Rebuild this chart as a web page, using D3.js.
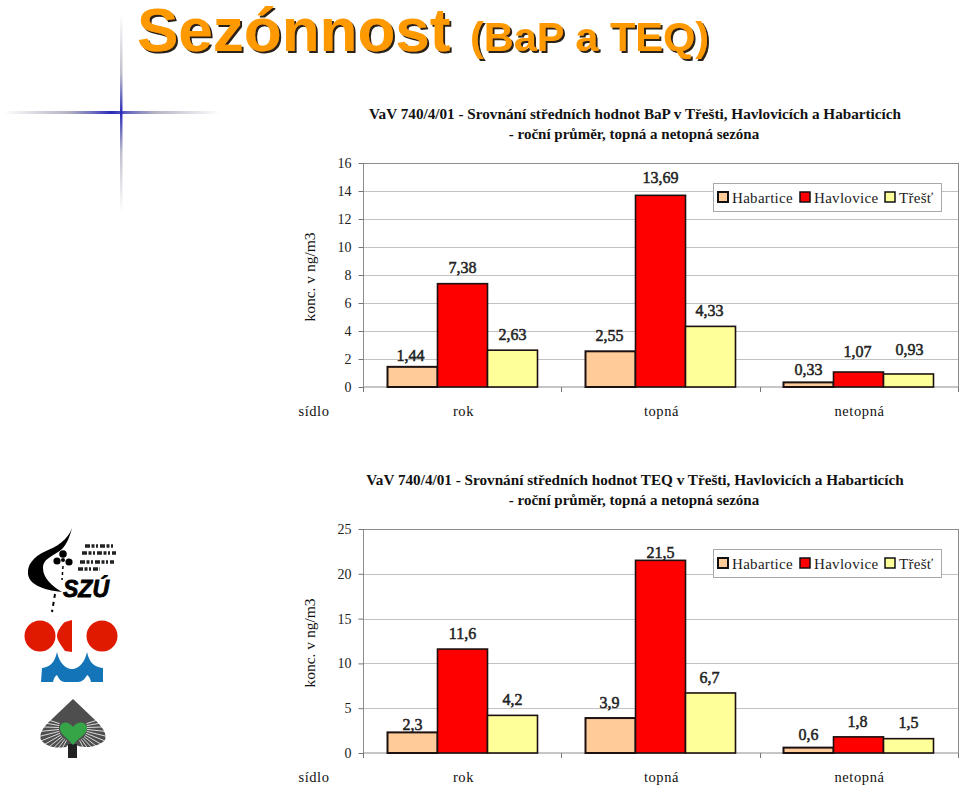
<!DOCTYPE html>
<html><head><meta charset="utf-8">
<script src="https://cdnjs.cloudflare.com/ajax/libs/d3/7.8.5/d3.min.js"></script>
<style>html,body{margin:0;background:#fff}svg{display:block}text{font-family:"Liberation Serif",serif;fill:#111}</style>
</head><body><svg id="c" width="960" height="787"></svg>
<script>
const categories = ["rok","topná","netopná"];
const seriesNames = ["Habartice","Havlovice","Třešť"];
const seriesColors = ["#ffcc99","#ff0000","#ffff99"];
const bapHabartice = [1.44,2.55,0.33];
const bapHavlovice = [7.38,13.69,1.07];
const bapTrest = [2.63,4.33,0.93];
const bapLabels = [["1,44","2,55","0,33"],["7,38","13,69","1,07"],["2,63","4,33","0,93"]];
const bapTicks = [0,2,4,6,8,10,12,14,16];
const teqHabartice = [2.3,3.9,0.6];
const teqHavlovice = [11.6,21.5,1.8];
const teqTrest = [4.2,6.7,1.6];
const teqLabels = [["2,3","3,9","0,6"],["11,6","21,5","1,8"],["4,2","6,7","1,5"]];
const teqTicks = [0,5,10,15,20,25];
const titleLine1 = ["VaV 740/4/01 - Srovnání středních hodnot BaP v Třešti, Havlovicích a Habarticích","VaV 740/4/01 - Srovnání středních hodnot TEQ v Třešti, Havlovicích a Habarticích"];
const titleLine2 = "- roční průměr, topná a netopná sezóna";

const svg = d3.select("#c");
const defs = svg.append("defs");
const g1 = defs.append("linearGradient").attr("id","crossH");
[[0,"#fff"],[.3,"#b4b4c4"],[.42,"#6a6ac0"],[.5,"#2a2ab8"],[.58,"#6a6ac0"],[.7,"#b4b4c4"],[1,"#fff"]].forEach(s=>g1.append("stop").attr("offset",s[0]).attr("stop-color",s[1]));
const g2 = defs.append("linearGradient").attr("id","crossV").attr("x1",0).attr("x2",0).attr("y1",0).attr("y2",1);
[[0,"#fff"],[.3,"#c0c0cc"],[.42,"#6a6ac0"],[.5,"#2a2ab8"],[.58,"#6a6ac0"],[.7,"#c0c0cc"],[1,"#fff"]].forEach(s=>g2.append("stop").attr("offset",s[0]).attr("stop-color",s[1]));
svg.append("rect").attr("x",3).attr("y",111).attr("width",217).attr("height",3).attr("fill","url(#crossH)");
svg.append("rect").attr("x",120).attr("y",14).attr("width",2.5).attr("height",198).attr("fill","url(#crossV)");

// main title
const shadow = defs.append("filter").attr("id","ts").attr("x","-5%").attr("y","-10%").attr("width","110%").attr("height","125%");
shadow.append("feDropShadow").attr("dx",2).attr("dy",2).attr("stdDeviation",0.3).attr("flood-color","#2b2113");
const tt = svg.append("g").attr("filter","url(#ts)");
tt.append("text").attr("x",137).attr("y",51).attr("font-size",62).style("font-family","'Liberation Sans',Arial,sans-serif").style("font-weight","bold").style("fill","#ff9900").text("Sezónnost");
tt.append("text").attr("x",470).attr("y",51).attr("font-size",41.5).style("font-family","'Liberation Sans',Arial,sans-serif").style("font-weight","bold").style("fill","#ff9900").text("(BaP a TEQ)");

function chart(o){
  const g = svg.append("g");
  const x = d3.scaleBand().domain(categories).range([363.5,957.5]).paddingInner(48/198).paddingOuter(24/198);
  const x1 = d3.scaleBand().domain(d3.range(3)).range([0,x.bandwidth()]);
  const y = d3.scaleLinear().domain([0,o.max]).range([o.y0,o.y0-224]);

  const tx = g.append("g").attr("text-anchor","middle");
  tx.append("text").attr("x",635).attr("y",o.y0-268).attr("font-size",15.2).style("font-weight","bold").text(o.t1);
  tx.append("text").attr("x",634).attr("y",o.y0-248).attr("font-size",15).style("font-weight","bold").text(titleLine2);

  // gridlines
  g.append("g").selectAll("line").data(o.ticks.slice(1)).join("line")
    .attr("x1",363).attr("x2",958).attr("y1",d=>Math.round(y(d))+.5).attr("y2",d=>Math.round(y(d))+.5)
    .attr("stroke","#c2c2c2").attr("stroke-width",1);
  g.append("rect").attr("x",363.5).attr("y",o.y0-223.5).attr("width",595).attr("height",223.5).attr("fill","none").attr("stroke","#8c8c8c");

  const ay = d3.axisLeft(y).tickValues(o.ticks).tickSize(5).tickPadding(7).tickFormat(d3.format("d"));
  const ga = g.append("g").attr("transform","translate(363.5,0)").call(ay);
  ga.select(".domain").remove();
  ga.selectAll("line").attr("stroke","#777");
  ga.selectAll("text").attr("font-size",14).style("font-family","'Liberation Serif',serif").style("fill","#222");

  const xa = d3.scaleLinear().domain([0,3]).range([363,958]);
  g.append("g").selectAll("line").data([0,1,2,3]).join("line")
    .attr("x1",d=>Math.round(xa(d))+.5).attr("x2",d=>Math.round(xa(d))+.5).attr("y1",o.y0).attr("y2",o.y0+5).attr("stroke","#777");

  // bars
  o.series.forEach((vals,s)=>{
    g.append("g").selectAll("rect").data(vals).join("rect")
      .attr("x",(d,i)=>x(categories[i])+x1(s))
      .attr("width",x1.bandwidth())
      .attr("y",d=>y(d))
      .attr("height",d=>o.y0-y(d))
      .attr("fill",seriesColors[s]).attr("stroke","#1c1010").attr("stroke-width",s===0?2:1.6);
    g.append("g").selectAll("text").data(vals).join("text")
      .attr("x",(d,i)=>x(categories[i])+x1(s)+x1.bandwidth()/2+o.nudgeX[s][i])
      .attr("y",(d,i)=>y(d)-o.lift[s][i]+5)
      .attr("text-anchor","middle").attr("font-size",16).attr("stroke","#222").attr("stroke-width",.5).style("fill","#222")
      .text((d,i)=>o.labels[s][i]);
  });

  // category labels
  g.append("g").selectAll("text").data(categories).join("text")
    .attr("x",d=>x(d)+x.bandwidth()/2+1).attr("y",o.y0+29).attr("text-anchor","middle")
    .attr("font-size",14.5).attr("letter-spacing",.6).text(d=>d);
  g.append("text").attr("x",314).attr("y",o.y0+29).attr("text-anchor","middle").attr("font-size",14.5).attr("letter-spacing",.6).text("sídlo");
  g.append("text").attr("transform",`translate(315,${o.y0-110}) rotate(-90)`).attr("text-anchor","middle").attr("font-size",15.5).text("konc. v ng/m3");

  // legend
  const L = o.y0-204;
  g.append("rect").attr("x",713.5).attr("y",L+.5).attr("width",228).attr("height",28).attr("fill","#fff").attr("stroke","#a8a8a8");
  const lx=[718,800,885], tl=[732,814,899];
  seriesNames.forEach((n,i)=>{
    g.append("rect").attr("x",lx[i]).attr("y",L+9).attr("width",10).attr("height",10).attr("fill",seriesColors[i]).attr("stroke","#111").attr("stroke-width",i===0?2:1.5);
    g.append("text").attr("x",tl[i]).attr("y",L+19.5).attr("font-size",15).attr("letter-spacing",.3).style("fill","#222").text(n);
  });
}
chart({t1:titleLine1[0],max:16,y0:387,ticks:bapTicks,series:[bapHabartice,bapHavlovice,bapTrest],labels:bapLabels,
  lift:[[11,15,12],[16,17,20],[15,15,24]],nudgeX:[[-2,-1,0],[0,0,-1],[0,-1,1]]});
chart({t1:titleLine1[1],max:25,y0:753,ticks:teqTicks,series:[teqHabartice,teqHavlovice,teqTrest],labels:teqLabels,
  lift:[[7,15,13],[15,7,15],[15,15,16]],nudgeX:[[0,-1,0],[0,0,-1],[0,-1,0]]});

// logos
const lg = svg.append("g");
lg.append("path").attr("fill","#000").attr("d","M72 528C68 540 56 547 46 551C33 557 27 565 28 574C29 584 42 590 62 592C52 586 43 578 43 568C43 558 54 556 62 549C67 544 70 536 72 528Z");
[[63,554,3.8],[57,561,3.6],[69,562,3.6],[63,560,2]].forEach(c=>lg.append("circle").attr("cx",c[0]).attr("cy",c[1]).attr("r",c[2]).attr("fill","#000"));
lg.append("path").attr("stroke","#000").attr("stroke-width",1.5).attr("stroke-dasharray","3 3").attr("fill","none").attr("d","M63 566L62 580");
lg.append("text").attr("x",63).attr("y",597).attr("font-size",23).attr("stroke","#000").attr("stroke-width",.8).style("font-family","'Liberation Sans',sans-serif").style("font-weight","bold").style("font-style","italic").style("fill","#000").text("SZÚ");
[[85,546,30],[82,553,34],[80,562,34],[78,569,22]].forEach(c=>lg.append("line").attr("x1",c[0]).attr("x2",c[0]+c[2]).attr("y1",c[1]).attr("y2",c[1]).attr("stroke","#222").attr("stroke-width",3.5).attr("stroke-dasharray","5 1.5 3 1.5 2 2"));
lg.append("path").attr("stroke","#000").attr("stroke-width",2).attr("stroke-dasharray","4 4").attr("fill","none").attr("d","M55 594L52 612");
lg.append("circle").attr("cx",40).attr("cy",636).attr("r",15.5).attr("fill","#e01a00");
lg.append("circle").attr("cx",102).attr("cy",636).attr("r",15.5).attr("fill","#e01a00");
lg.append("path").attr("fill","#e01a00").attr("d","M72 620L72 652L65 651C61 645 57 640 57 636C57 632 61 625 65 622Z");
lg.append("path").attr("fill","#1474b8").attr("d","M41 682L42 668C50 667 55 662 57 652C59 662 65 669 72 669C79 669 85 662 87 652C89 662 94 667 103 668L103 682L91 682C90 678 89 676 87 675C85 679 82 682 78 682L65 682C61 682 59 679 57 675C55 676 54 678 53 682Z");
// tree logo
const tree = lg.append("g");
tree.append("path").attr("fill","#4e4e4e").attr("d","M73 699L94 719C104 728 107 735 105 740C100 745 90 749 78 746L77 745L77 758L68 758L68 745L66 747C54 749 46 746 41 740C39 734 42 728 52 719Z");
d3.range(28,112,8).forEach(a=>{
  [-1,1].forEach(side=>{
    const t=a*Math.PI/180, sx=Math.sin(t)*side, cy=Math.cos(t);
    tree.append("line").attr("x1",73+14*sx).attr("x2",73+38*sx).attr("y1",728+14*cy).attr("y2",728+38*cy).attr("stroke","#fff").attr("stroke-width",1).attr("opacity",.8);
  });
});
tree.append("rect").attr("x",68).attr("y",744).attr("width",9).attr("height",14).attr("fill","#222");
tree.append("path").attr("fill","#35a548").attr("d","M73 745C67 737 59 734 60 727C61 721 69 721 73 727C77 721 85 721 87 727C88 734 79 737 73 745Z");
</script></body></html>
